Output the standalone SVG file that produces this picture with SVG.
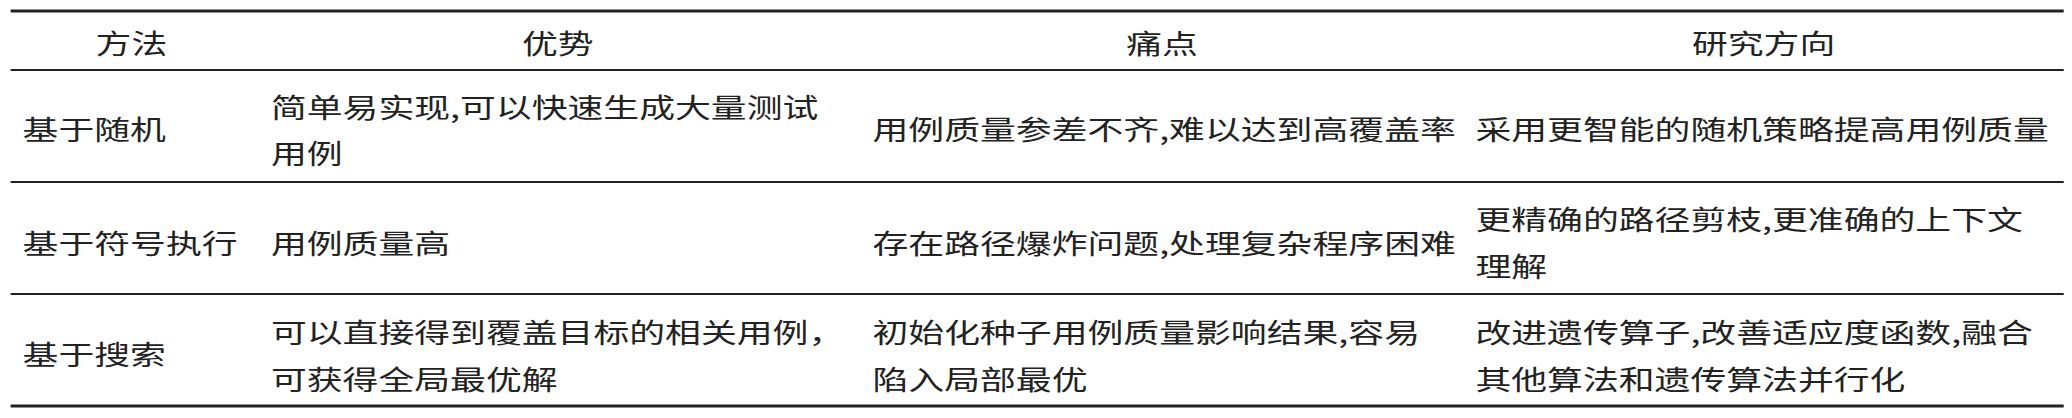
<svg xmlns="http://www.w3.org/2000/svg" width="2072" height="418" viewBox="0 0 2072 418">
<style>
text{font-family:"Noto Sans CJK SC","Noto Sans CJK JP",sans-serif;font-size:27px;fill:#222;dominant-baseline:central}
.c{text-anchor:middle}
line{stroke:#222}
</style>
<rect width="2072" height="418" fill="#fff"/>
<g transform="scale(1.328,1)">
<g id="rules">
<line x1="8" y1="11" x2="1554" y2="11" stroke-width="3"/>
<line x1="8" y1="70" x2="1554" y2="70" stroke-width="2"/>
<line x1="8" y1="182" x2="1554" y2="182" stroke-width="2"/>
<line x1="8" y1="294" x2="1554" y2="294" stroke-width="2"/>
<line x1="8" y1="406" x2="1554" y2="406" stroke-width="3"/>
</g>
<g id="header">
<text class="c" x="99" y="42">方法</text>
<text class="c" x="420" y="42">优势</text>
<text class="c" x="875" y="42">痛点</text>
<text class="c" x="1328" y="42">研究方向</text>
</g>
<g id="row1">
<text x="17" y="128">基于随机</text>
<text x="204" y="106">简单易实现,可以快速生成大量测试</text>
<text x="204" y="152">用例</text>
<text x="657" y="128">用例质量参差不齐,难以达到高覆盖率</text>
<text x="1111" y="128">采用更智能的随机策略提高用例质量</text>
</g>
<g id="row2">
<text x="17" y="242">基于符号执行</text>
<text x="204" y="242">用例质量高</text>
<text x="657" y="242">存在路径爆炸问题,处理复杂程序困难</text>
<text x="1111" y="218">更精确的路径剪枝,更准确的上下文</text>
<text x="1111" y="265">理解</text>
</g>
<g id="row3">
<text x="17" y="353">基于搜索</text>
<text x="204" y="331">可以直接得到覆盖目标的相关用例，</text>
<text x="204" y="378">可获得全局最优解</text>
<text x="657" y="331">初始化种子用例质量影响结果,容易</text>
<text x="657" y="378">陷入局部最优</text>
<text x="1111" y="331">改进遗传算子,改善适应度函数,融合</text>
<text x="1111" y="378">其他算法和遗传算法并行化</text>
</g>
</g>
</svg>
